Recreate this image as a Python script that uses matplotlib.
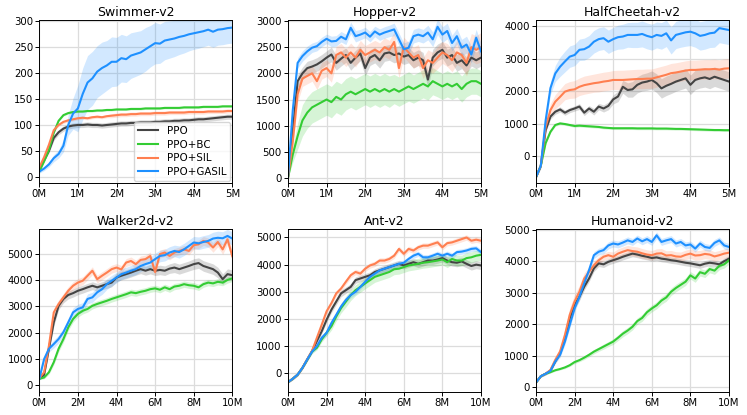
"""
Learning curves of PPO and its self-imitation variants on six MuJoCo tasks.
"""

import matplotlib

matplotlib.use("Agg")
import matplotlib.pyplot as plt
import numpy as np
from matplotlib.ticker import FuncFormatter, MultipleLocator

METHODS = ["PPO", "PPO+BC", "PPO+SIL", "PPO+GASIL"]
COLORS = ["#444444", "#33cc33", "#ff7f50", "#1e90ff"]

# timesteps (millions) where the curves were sampled
STEPS_5M = np.linspace(0, 5, 41)
STEPS_10M = np.linspace(0, 10, 41)

# ---- Swimmer-v2 ------------------------------------------------------------
swimmer_ppo = [15, 32, 50, 75, 86, 93, 97, 99, 100, 100, 101, 100, 100, 99, 100, 101,
               102, 103, 103, 104, 104, 105, 105, 105, 106, 106, 107, 107, 108, 108,
               109, 109, 110, 111, 111, 112, 113, 114, 115, 116, 116]
swimmer_ppo_sd = [2, 3, 4, 5, 5, 5, 5, 5, 5, 5, 5, 5, 5, 5, 5, 5, 5, 5, 5, 5, 5, 5, 5,
                  5, 5, 5, 5, 5, 5, 5, 5, 5, 5, 5, 5, 5, 5, 5, 5, 5, 5]
swimmer_bc = [10, 30, 52, 85, 108, 119, 123, 125, 126, 126, 127, 127, 128, 128, 129,
              129, 130, 130, 130, 131, 131, 131, 132, 132, 132, 132, 133, 133, 133, 133,
              134, 134, 134, 134, 135, 135, 135, 135, 136, 136, 136]
swimmer_bc_sd = [2] * 41
swimmer_sil = [18, 38, 62, 90, 100, 106, 109, 111, 113, 114, 113, 115, 116, 115, 117,
               118, 119, 120, 120, 121, 121, 122, 122, 122, 123, 123, 123, 124, 124, 124,
               124, 125, 125, 125, 125, 126, 126, 126, 126, 127, 127]
swimmer_sil_sd = [2, 3, 3, 3, 3, 3, 3, 3, 3, 3, 3, 3, 3, 3, 3, 4, 4, 4, 4, 4, 4, 4, 4,
                  4, 4, 4, 4, 4, 4, 4, 4, 4, 4, 4, 4, 4, 4, 4, 4, 4, 4]
swimmer_gasil = [10, 16, 24, 36, 44, 60, 100, 122, 132, 160, 182, 190, 203, 210, 215,
                 222, 222, 229, 227, 234, 237, 240, 246, 252, 258, 257, 263, 265, 267,
                 270, 272, 275, 277, 279, 281, 284, 280, 284, 285, 287, 288]
swimmer_gasil_sd = [3, 4, 5, 7, 8, 12, 20, 30, 45, 50, 52, 52, 50, 50, 48, 48, 47, 46,
                    45, 44, 43, 42, 42, 40, 40, 38, 37, 36, 35, 34, 33, 32, 31, 31, 30,
                    30, 30, 30, 30, 30, 30]

# ---- Hopper-v2 -------------------------------------------------------------
hopper_ppo = [0, 900, 1850, 2000, 2100, 2130, 2170, 2230, 2300, 2360, 2200, 2280, 2350,
              2200, 2300, 2380, 2100, 2300, 2350, 2250, 2380, 2400, 2350, 2380, 2320,
              2350, 2250, 2300, 2250, 1880, 2300, 2400, 2450, 2300, 2350, 2200, 2250,
              2150, 2300, 2250, 2300]
hopper_ppo_sd = [0, 100, 120, 120, 130, 130, 130, 130, 130, 140, 140, 140, 140, 140, 140,
                 140, 150, 150, 150, 150, 150, 150, 150, 150, 150, 150, 150, 150, 150,
                 160, 160, 160, 160, 160, 160, 160, 160, 160, 160, 160, 160]
hopper_bc = [0, 450, 800, 1100, 1250, 1350, 1400, 1450, 1500, 1450, 1550, 1500, 1600,
             1650, 1600, 1650, 1700, 1650, 1700, 1650, 1700, 1650, 1700, 1650, 1700,
             1750, 1700, 1750, 1800, 1750, 1850, 1800, 1750, 1800, 1750, 1800, 1700,
             1800, 1850, 1850, 1800]
hopper_bc_sd = [0, 150, 250, 300, 300, 300, 300, 300, 300, 300, 300, 300, 300, 300, 300,
                300, 300, 300, 300, 300, 300, 300, 280, 280, 280, 280, 270, 270, 270,
                260, 260, 250, 250, 250, 250, 250, 250, 250, 250, 250, 250]
hopper_sil = [0, 700, 1600, 1900, 1950, 2000, 1850, 2050, 2100, 2000, 2350, 2400, 2300,
              2400, 2300, 2450, 2350, 2400, 2450, 2400, 2500, 2450, 2600, 2100, 2500,
              2400, 2300, 2350, 2100, 2250, 2200, 2300, 2400, 2350, 2250, 2400, 2350,
              2200, 2500, 2450, 2500]
hopper_sil_sd = [0, 120, 150, 150, 150, 150, 160, 160, 160, 170, 170, 170, 170, 180, 180,
                 180, 180, 180, 180, 180, 180, 180, 190, 190, 190, 190, 200, 200, 200,
                 200, 200, 210, 210, 220, 220, 230, 240, 250, 260, 270, 280]
hopper_gasil = [0, 1300, 2200, 2330, 2420, 2490, 2520, 2600, 2660, 2610, 2620, 2700,
                2650, 2870, 2710, 2740, 2780, 2700, 2800, 2740, 2780, 2810, 2840, 2650,
                2460, 2490, 2710, 2740, 2710, 2780, 2650, 2890, 2740, 2810, 2580, 2710,
                2490, 2550, 2360, 2680, 2420]
hopper_gasil_sd = [0, 80, 100, 100, 100, 90, 90, 90, 90, 100, 100, 100, 100, 110, 110,
                   100, 100, 100, 100, 110, 110, 110, 120, 120, 120, 130, 130, 130, 130,
                   140, 140, 150, 150, 150, 150, 150, 160, 160, 160, 160, 160]

# ---- HalfCheetah-v2 --------------------------------------------------------
cheetah_ppo = [-650, -300, 800, 1220, 1370, 1440, 1340, 1420, 1470, 1530, 1340, 1470,
               1370, 1530, 1470, 1550, 1750, 1840, 2140, 2040, 2060, 2200, 2270, 2300,
               2350, 2250, 2090, 2170, 2230, 2300, 2350, 2400, 2200, 2350, 2400, 2430,
               2380, 2450, 2400, 2350, 2300]
cheetah_ppo_sd = [20, 50, 70, 80, 80, 80, 80, 80, 80, 90, 90, 90, 100, 100, 110, 120,
                  140, 160, 200, 220, 240, 250, 260, 270, 280, 290, 300, 300, 300, 300,
                  300, 300, 300, 300, 300, 300, 300, 300, 300, 300, 300]
cheetah_bc = [-650, -300, 400, 750, 960, 1010, 990, 960, 930, 940, 930, 920, 910, 900,
              880, 870, 860, 860, 860, 860, 860, 855, 855, 855, 855, 850, 850, 850, 845,
              840, 840, 835, 830, 825, 820, 815, 810, 805, 805, 800, 800]
cheetah_bc_sd = [40] * 41
cheetah_sil = [-650, -300, 900, 1420, 1680, 1830, 1990, 2040, 2060, 2140, 2190, 2220,
               2250, 2270, 2300, 2320, 2350, 2350, 2350, 2360, 2370, 2380, 2380, 2390,
               2390, 2430, 2470, 2510, 2560, 2580, 2610, 2640, 2660, 2660, 2670, 2680,
               2680, 2690, 2670, 2700, 2710]
cheetah_sil_sd = [30, 80, 150, 200, 220, 240, 250, 260, 270, 270, 280, 280, 280, 290,
                  290, 290, 290, 300, 300, 300, 300, 300, 300, 300, 300, 300, 300, 300,
                  300, 300, 300, 300, 300, 300, 300, 300, 300, 300, 300, 300, 300]
cheetah_gasil = [-650, -300, 1100, 2100, 2550, 2760, 2920, 3070, 3120, 3280, 3300, 3380,
                 3530, 3610, 3640, 3530, 3610, 3670, 3690, 3740, 3740, 3740, 3770, 3710,
                 3670, 3740, 3710, 3790, 3570, 3740, 3780, 3820, 3840, 3790, 3710, 3740,
                 3790, 3810, 3950, 3920, 3890]
cheetah_gasil_sd = [30, 80, 150, 200, 250, 300, 320, 330, 330, 330, 340, 340, 350, 350,
                    350, 360, 360, 370, 380, 380, 390, 390, 400, 400, 400, 400, 410, 410,
                    420, 420, 420, 430, 430, 430, 440, 440, 440, 450, 450, 450, 450]

# ---- Walker2d-v2 -----------------------------------------------------------
walker_ppo = [250, 400, 1400, 2390, 3020, 3280, 3430, 3500, 3590, 3650, 3720, 3780,
              3720, 3780, 3840, 3900, 4090, 4160, 4220, 4280, 4350, 4410, 4350, 4410,
              4350, 4380, 4350, 4430, 4470, 4410, 4470, 4530, 4600, 4640, 4530, 4470,
              4410, 4280, 4030, 4220, 4180]
walker_ppo_sd = [30, 60, 100, 150, 150, 150, 150, 150, 150, 150, 150, 150, 150, 150,
                 160, 160, 160, 160, 170, 170, 170, 170, 170, 180, 180, 180, 180, 180,
                 190, 190, 190, 190, 200, 200, 200, 200, 200, 200, 200, 200, 200]
walker_bc = [250, 300, 500, 880, 1390, 1760, 2200, 2520, 2710, 2830, 2900, 3020, 3090,
             3150, 3210, 3280, 3340, 3400, 3460, 3530, 3500, 3550, 3590, 3650, 3680,
             3630, 3720, 3650, 3750, 3780, 3840, 3800, 3780, 3720, 3840, 3900, 3870,
             3930, 3900, 4000, 4060]
walker_bc_sd = [30, 50, 80, 100, 120, 120, 120, 120, 120, 120, 120, 120, 120, 120, 120,
                120, 120, 120, 120, 120, 120, 120, 120, 120, 120, 120, 120, 120, 120,
                120, 120, 120, 120, 120, 120, 120, 120, 120, 120, 120, 120]
walker_sil = [280, 500, 1510, 2770, 3090, 3340, 3590, 3780, 3900, 3970, 4160, 4350, 4030,
              4160, 4280, 4410, 4470, 4400, 4660, 4720, 4600, 4760, 4790, 4910, 4300,
              4980, 5040, 4910, 5040, 5100, 5160, 5100, 5320, 5350, 5480, 5420, 5230,
              5440, 5160, 5540, 4900]
walker_sil_sd = [30, 60, 100, 150, 150, 150, 150, 150, 150, 150, 150, 150, 150, 150,
                 150, 150, 150, 150, 150, 150, 150, 150, 150, 150, 150, 150, 150, 150,
                 150, 150, 150, 150, 160, 160, 170, 170, 180, 180, 190, 190, 200]
walker_gasil = [250, 1000, 1390, 1570, 1760, 2020, 2390, 2770, 2900, 2960, 3280, 3340,
                3530, 3650, 3840, 3970, 4090, 4220, 4280, 4350, 4410, 4530, 4600, 4660,
                4790, 4910, 4940, 5040, 5100, 5060, 5160, 5290, 5420, 5390, 5440, 5480,
                5570, 5600, 5580, 5670, 5570]
walker_gasil_sd = [30, 80, 120, 150, 150, 150, 160, 170, 180, 180, 190, 190, 200, 200,
                   200, 200, 200, 200, 200, 200, 210, 210, 210, 210, 220, 220, 220, 220,
                   220, 230, 230, 230, 230, 240, 240, 240, 240, 250, 250, 250, 250]

# ---- Ant-v2 ----------------------------------------------------------------
ant_ppo = [-330, -200, -50, 200, 510, 820, 1190, 1550, 1970, 2340, 2640, 2940, 3060,
           3180, 3430, 3490, 3550, 3610, 3730, 3790, 3850, 3910, 3970, 4030, 3970, 4030,
           4090, 4030, 4090, 4150, 4150, 4190, 4240, 4150, 4090, 4070, 4120, 4030, 3950,
           4000, 3970]
ant_ppo_sd = [30, 40, 50, 50, 60, 70, 80, 90, 100, 110, 120, 120, 120, 120, 120, 120,
              120, 120, 120, 130, 130, 130, 130, 130, 130, 130, 130, 140, 140, 140, 140,
              140, 140, 140, 140, 150, 150, 150, 150, 150, 150]
ant_bc = [-330, -200, -50, 200, 500, 800, 940, 1250, 1490, 1730, 2090, 2400, 2640, 2880,
          3060, 3180, 3310, 3430, 3550, 3610, 3670, 3730, 3830, 3850, 3910, 3970, 4000,
          4030, 4070, 4090, 4120, 4150, 4190, 4090, 4210, 4150, 4150, 4240, 4270, 4330,
          4360]
ant_bc_sd = [30, 40, 50, 50, 60, 70, 80, 100, 120, 140, 160, 180, 200, 200, 200, 200,
             200, 200, 200, 200, 200, 200, 200, 200, 200, 200, 200, 200, 200, 200, 200,
             200, 200, 200, 200, 200, 200, 200, 200, 200, 200]
ant_sil = [-330, -200, -50, 200, 520, 830, 1310, 1790, 2280, 2580, 2940, 3120, 3370,
           3610, 3730, 3670, 3850, 3970, 4030, 4150, 4150, 4210, 4330, 4580, 4400, 4580,
           4520, 4640, 4700, 4700, 4760, 4820, 4640, 4790, 4820, 4880, 4940, 5000, 4880,
           4920, 4880]
ant_sil_sd = [30, 40, 50, 50, 60, 70, 80, 90, 100, 100, 100, 100, 100, 100, 100, 100,
              100, 100, 100, 100, 100, 100, 100, 100, 100, 100, 100, 100, 100, 100, 100,
              100, 100, 100, 100, 100, 100, 100, 100, 100, 100]
ant_gasil = [-330, -200, -50, 200, 510, 800, 1000, 1310, 1490, 1850, 2150, 2460, 2700,
             2880, 3000, 3180, 3370, 3550, 3670, 3790, 3850, 3910, 3970, 4030, 4070, 4210,
             4330, 4400, 4270, 4270, 4330, 4400, 4330, 4400, 4330, 4460, 4480, 4520, 4580,
             4600, 4460]
ant_gasil_sd = [30, 40, 50, 50, 60, 70, 80, 90, 100, 100, 100, 100, 100, 100, 100, 100,
                100, 100, 100, 100, 100, 100, 100, 100, 100, 100, 100, 100, 100, 100, 100,
                100, 100, 100, 100, 100, 100, 100, 100, 100, 100]

# ---- Humanoid-v2 -----------------------------------------------------------
humanoid_ppo = [150, 350, 430, 530, 820, 1080, 1560, 2190, 2610, 2870, 3190, 3450, 3770,
                3930, 3900, 3980, 4030, 4080, 4140, 4190, 4240, 4210, 4170, 4140, 4100,
                4120, 4080, 4060, 4030, 4010, 3980, 3950, 3930, 3900, 3870, 3920, 3950,
                3930, 3900, 4000, 4080]
humanoid_ppo_sd = [20, 30, 40, 50, 60, 80, 100, 120, 120, 120, 110, 100, 100, 100, 100,
                   100, 100, 100, 100, 100, 100, 100, 100, 100, 100, 100, 100, 100, 100,
                   100, 100, 100, 100, 100, 100, 100, 100, 100, 100, 100, 100]
humanoid_bc = [150, 350, 430, 480, 540, 580, 630, 700, 800, 860, 940, 1030, 1130, 1210,
               1290, 1370, 1450, 1570, 1700, 1800, 1920, 2100, 2200, 2380, 2500, 2600,
               2750, 2850, 3030, 3150, 3250, 3350, 3550, 3450, 3650, 3600, 3750, 3700,
               3850, 3900, 4030]
humanoid_bc_sd = [20, 30, 30, 30, 30, 30, 40, 40, 50, 50, 60, 60, 70, 70, 80, 80, 90,
                  90, 100, 100, 100, 100, 110, 110, 110, 110, 120, 120, 120, 120, 120,
                  120, 120, 120, 120, 120, 120, 120, 120, 120, 120]
humanoid_sil = [150, 350, 430, 550, 870, 1140, 1660, 2300, 2720, 3030, 3450, 3660, 3870,
                4030, 4140, 4190, 4140, 4240, 4300, 4350, 4320, 4300, 4250, 4210, 4190,
                4240, 4250, 4180, 4190, 4150, 4140, 4200, 4240, 4180, 4190, 4230, 4210,
                4150, 4190, 4240, 4270]
humanoid_sil_sd = [20, 30, 40, 60, 80, 120, 180, 220, 220, 200, 180, 150, 130, 120, 120,
                   120, 150, 150, 150, 150, 150, 150, 150, 150, 150, 150, 150, 150, 150,
                   150, 150, 150, 150, 150, 150, 150, 150, 150, 150, 150, 150]
humanoid_gasil = [150, 350, 430, 520, 820, 1030, 1450, 1980, 2500, 2870, 3300, 3720,
                  4190, 4300, 4350, 4500, 4560, 4530, 4590, 4660, 4610, 4720, 4630, 4700,
                  4610, 4820, 4610, 4660, 4700, 4560, 4610, 4500, 4530, 4400, 4560, 4450,
                  4420, 4580, 4660, 4500, 4450]
humanoid_gasil_sd = [20, 30, 40, 50, 60, 80, 100, 110, 110, 110, 110, 110, 110, 110,
                     110, 110, 110, 110, 110, 110, 110, 110, 110, 110, 110, 110, 110,
                     110, 110, 110, 110, 110, 110, 110, 110, 110, 110, 110, 110, 110, 110]

PANELS = [
    ("Swimmer-v2", STEPS_5M, (-12, 302), 50, 1,
     [swimmer_ppo, swimmer_bc, swimmer_sil, swimmer_gasil],
     [swimmer_ppo_sd, swimmer_bc_sd, swimmer_sil_sd, swimmer_gasil_sd]),
    ("Hopper-v2", STEPS_5M, (-96, 3013), 500, 1,
     [hopper_ppo, hopper_bc, hopper_sil, hopper_gasil],
     [hopper_ppo_sd, hopper_bc_sd, hopper_sil_sd, hopper_gasil_sd]),
    ("HalfCheetah-v2", STEPS_5M, (-830, 4190), 1000, 1,
     [cheetah_ppo, cheetah_bc, cheetah_sil, cheetah_gasil],
     [cheetah_ppo_sd, cheetah_bc_sd, cheetah_sil_sd, cheetah_gasil_sd]),
    ("Walker2d-v2", STEPS_10M, (-250, 5920), 1000, 2,
     [walker_ppo, walker_bc, walker_sil, walker_gasil],
     [walker_ppo_sd, walker_bc_sd, walker_sil_sd, walker_gasil_sd]),
    ("Ant-v2", STEPS_10M, (-690, 5300), 1000, 2,
     [ant_ppo, ant_bc, ant_sil, ant_gasil],
     [ant_ppo_sd, ant_bc_sd, ant_sil_sd, ant_gasil_sd]),
    ("Humanoid-v2", STEPS_10M, (-150, 5010), 1000, 2,
     [humanoid_ppo, humanoid_bc, humanoid_sil, humanoid_gasil],
     [humanoid_ppo_sd, humanoid_bc_sd, humanoid_sil_sd, humanoid_gasil_sd]),
]

# axes boxes in figure fractions (left, bottom, width, height)
LEFTS = [0.0526, 0.3855, 0.7175]
BOTTOMS = [0.559, 0.0554]
WIDTH, HEIGHT = 0.2584, 0.392


def plot_panel(ax, title, steps, ylim, ystep, xstep, means, spreads):
    """Draw the four method curves with their shaded spread."""
    for method, color, mean, spread in zip(METHODS, COLORS, means, spreads):
        mean = np.asarray(mean, dtype=float)
        spread = np.asarray(spread, dtype=float)
        ax.fill_between(steps, mean - spread, mean + spread, color=color,
                        alpha=0.2, linewidth=0)
        ax.plot(steps, mean, color=color, linewidth=1.5, label=method)

    ax.set_xlim(steps[0], steps[-1])
    ax.set_ylim(*ylim)
    ax.xaxis.set_major_locator(MultipleLocator(xstep))
    ax.yaxis.set_major_locator(MultipleLocator(ystep))
    ax.xaxis.set_major_formatter(FuncFormatter(lambda v, _: f"{v:.0f}M"))
    ax.grid(color="#dcdcdc", linewidth=0.9)
    ax.set_axisbelow(True)
    ax.tick_params(labelsize=7.3, length=3, width=0.7, pad=1.5)
    for spine in ax.spines.values():
        spine.set_linewidth(0.7)
    ax.set_title(title, fontsize=9, pad=3)


fig = plt.figure(figsize=(7.47, 4.15), dpi=100)

for i, (title, steps, ylim, ystep, xstep, means, spreads) in enumerate(PANELS):
    ax = fig.add_axes([LEFTS[i % 3], BOTTOMS[i // 3], WIDTH, HEIGHT])
    plot_panel(ax, title, steps, ylim, ystep, xstep, means, spreads)
    if i == 0:
        ax.legend(loc="lower right", fontsize=7.4, borderaxespad=0.2,
                  handlelength=2.0, labelspacing=0.35, fancybox=True)

fig.savefig("out.png", dpi=100)
